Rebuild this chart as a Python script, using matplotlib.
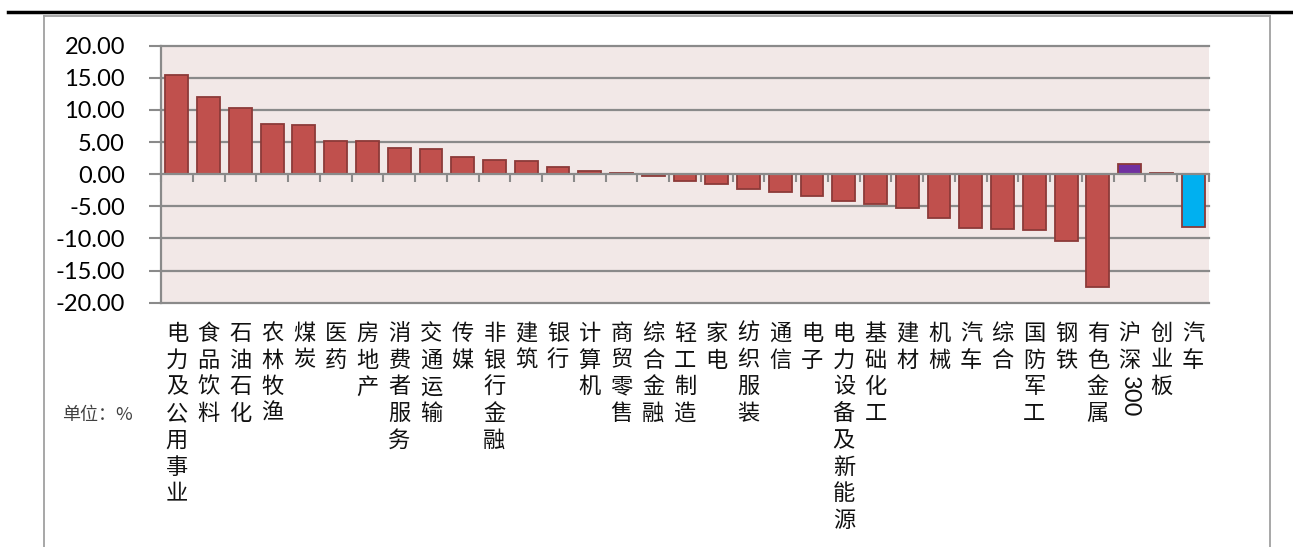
import numpy as np
import matplotlib
matplotlib.use("Agg")
import matplotlib.pyplot as plt
from matplotlib.transforms import blended_transform_factory
from matplotlib.lines import Line2D

plt.rcParams['font.family'] = ['Noto Sans CJK SC', 'DejaVu Sans']

# ---------------- data ----------------
categories = ["电力及公用事业", "食品饮料", "石油石化", "农林牧渔", "煤炭", "医药", "房地产",
              "消费者服务", "交通运输", "传媒", "非银行金融", "建筑", "银行", "计算机",
              "商贸零售", "综合金融", "轻工制造", "家电", "纺织服装", "通信", "电子",
              "电力设备及新能源", "基础化工", "建材", "机械", "汽车", "综合", "国防军工",
              "钢铁", "有色金属", "沪深300", "创业板", "汽车"]
values = [15.41, 11.99, 10.27, 7.78, 7.63, 5.14, 5.14, 4.10, 3.89, 2.70, 2.18, 2.02,
          1.14, 0.52, 0.21, -0.30, -0.99, -1.60, -2.23, -2.70, -3.32, -4.10, -4.57,
          -5.19, -6.75, -8.35, -8.50, -8.70, -10.43, -17.60, 1.60, 0.20, -8.25]
y_ticks = [-20, -15, -10, -5, 0, 5, 10, 15, 20]
unit_label = "单位：%"

# ---------------- style ----------------
W, H = 1293, 547
BAR = "#C0504D"
EDGE = "#8C3A38"
GRID = "#8A8A8A"
n = len(categories)
colors = [BAR] * n
colors[categories.index("沪深300")] = "#7030A0"
colors[n - 1] = "#00B0F0"

fig = plt.figure(figsize=(W / 100, H / 100), dpi=100)
ax = fig.add_axes([161 / W, 1 - 302.7 / H, (1209 - 161) / W, 257 / H])
ax.set_facecolor("#F2E8E7")

x = np.arange(1, n + 1)
ax.bar(x, values, width=0.72, color=colors, edgecolor=EDGE, linewidth=1.3, zorder=3)
ax.set_xlim(0.5, n + 0.5)
ax.set_ylim(min(y_ticks), max(y_ticks))

for v in y_ticks:
    if v != 0:
        ax.axhline(v, color=GRID, lw=1.6, zorder=1, clip_on=False)

ax.set_yticks(y_ticks)
ax.set_yticklabels([f"{v:.2f}" for v in y_ticks], family=["Lato", "DejaVu Sans"], fontsize=17)
ax.tick_params(axis="y", length=9, width=1.5, color=GRID, pad=17)

ax.set_xticks(np.arange(0.5, n + 1, 1))
ax.tick_params(axis="x", direction="out", length=6, width=1.5, color=GRID, labelbottom=False)

for s in ("top", "right"):
    ax.spines[s].set_visible(False)
ax.spines["left"].set_color(GRID)
ax.spines["left"].set_linewidth(1.6)
ax.spines["bottom"].set_position(("data", 0))
ax.spines["bottom"].set_color(GRID)
ax.spines["bottom"].set_linewidth(1.6)
ax.spines["bottom"].set_zorder(4)

# vertical category labels
trans = blended_transform_factory(ax.transData, fig.transFigure)
pitch = 26.7
first_center = 333.5
for i, lab in enumerate(categories):
    xi = x[i]
    chars = [c for c in lab if not c.isdigit()]
    digits = "".join(c for c in lab if c.isdigit())
    for k, c in enumerate(chars):
        yc = first_center + k * pitch
        ax.text(xi, 1 - yc / H, c, transform=trans, ha="center", va="center",
                fontsize=16, color="#111111", clip_on=False)
    if digits:
        ytop = first_center + len(chars) * pitch - pitch / 2 + 2
        ax.text(xi, 1 - ytop / H, digits, transform=trans, ha="center", va="top",
                rotation=270, fontsize=17, family=["Lato", "DejaVu Sans"],
                color="#111111", clip_on=False)

fig.text(62 / W, 1 - 415 / H, unit_label, fontsize=13, va="center", ha="left", color="#404040")

# frame lines
fig.add_artist(Line2D([8 / W, 1], [1 - 12 / H] * 2, color="black", lw=2.5, transform=fig.transFigure))
fig.add_artist(Line2D([44 / W, 1270 / W], [1 - 15.6 / H] * 2, color="#A0A0A0", lw=1.3, transform=fig.transFigure))
fig.add_artist(Line2D([44 / W] * 2, [0, 1 - 15.6 / H], color="#A0A0A0", lw=1.3, transform=fig.transFigure))
fig.add_artist(Line2D([1270 / W] * 2, [0, 1 - 15.6 / H], color="#A0A0A0", lw=1.3, transform=fig.transFigure))

fig.savefig("out.png", dpi=100)
